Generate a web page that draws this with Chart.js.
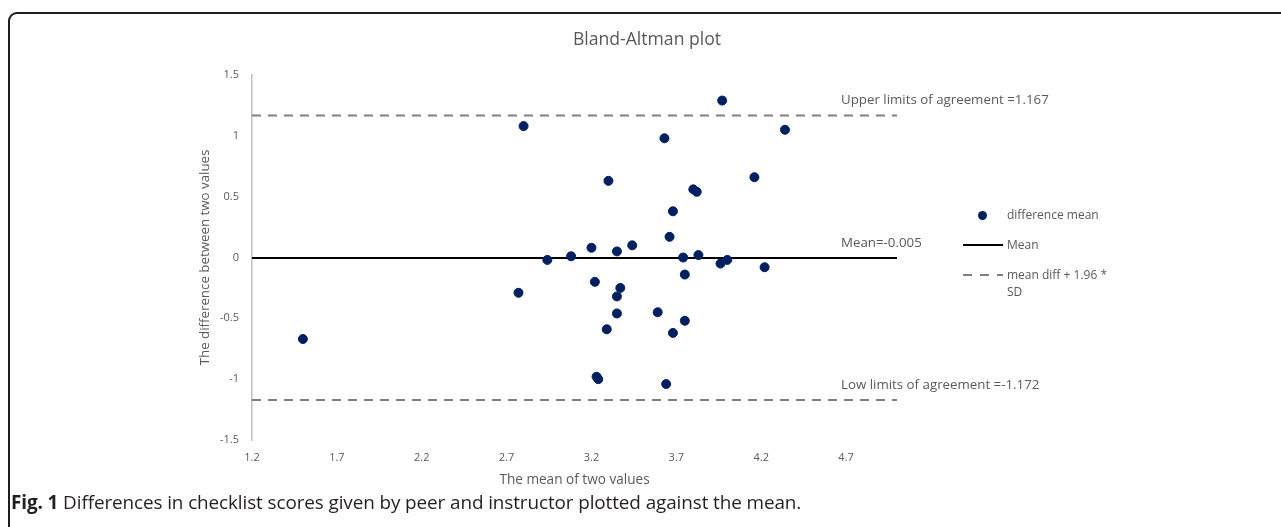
<!DOCTYPE html>
<html>
<head>
<meta charset="utf-8">
<script src="https://cdn.jsdelivr.net/npm/chart.js@4"></script>
<style>
  html, body { margin: 0; padding: 0; background: #fff; overflow: hidden; }
  body { width: 1281px; height: 527px; position: relative; font-family: "Open Sans", sans-serif; }
  #frame { position: absolute; left: 8px; top: 12px; width: 1400px; height: 600px; border: 2px solid #1e1e1e; border-radius: 9px; box-sizing: border-box; }
  #wrap { position: absolute; left: 0; top: 0; width: 1281px; height: 527px; }
  #title { position: absolute; left: 647px; top: 38px; transform: translate(-50%, -50%); font-size: 17.6px; color: #595959; white-space: nowrap; }
  #caption { position: absolute; left: 11px; top: 502px; transform: translateY(-50%); font-size: 18.9px; color: #231f20; white-space: nowrap; letter-spacing: -0.1px; }
  #caption b { font-weight: 700; }
  .leg { position: absolute; font-size: 12px; color: #595959; line-height: 17px; white-space: nowrap; }
  .legdot { position: absolute; width: 9px; height: 9px; border-radius: 50%; background: #002060; }
  .legline { position: absolute; height: 2px; }
</style>
</head>
<body>
<div id="frame"></div>
<div id="wrap"><canvas id="c"></canvas></div>
<div id="title">Bland-Altman plot</div>
<div class="legdot" style="left:978px; top:211px;"></div>
<div class="leg" style="left:1007px; top:206px;">difference mean</div>
<div class="legline" style="left:963px; top:244px; width:40px; background:#000;"></div>
<div class="leg" style="left:1007px; top:236px;">Mean</div>
<div class="legline" style="left:963px; top:274px; width:40px; background:repeating-linear-gradient(to right, #7f7f7f 0 9px, transparent 9px 17px);"></div>
<div class="leg" style="left:1007px; top:266px;">mean diff + 1.96 *<br>SD</div>
<div id="caption"><b>Fig. 1</b> Differences in checklist scores given by peer and instructor plotted against the mean.</div>
<script>
// ---- data ----
const meanOfTwo = [1.50, 2.80, 2.77, 2.94, 3.08, 3.20, 3.30, 3.35, 3.44, 3.22, 3.37, 3.35, 3.35, 3.29, 3.23, 3.24, 3.63, 3.97, 4.34, 4.16, 3.80, 3.82, 3.68, 3.66, 3.74, 3.83, 3.75, 3.96, 4.00, 4.22, 3.59, 3.75, 3.68, 3.64];
const diffOfTwo = [-0.67, 1.08, -0.29, -0.02, 0.01, 0.08, 0.63, 0.05, 0.10, -0.20, -0.25, -0.32, -0.46, -0.59, -0.98, -1.00, 0.98, 1.29, 1.05, 0.66, 0.56, 0.54, 0.38, 0.17, 0.00, 0.02, -0.14, -0.05, -0.02, -0.08, -0.45, -0.52, -0.62, -1.04];
const lineX = [1.2, 5.0];
const meanDiff = -0.005;
const upperLoA = 1.167;
const lowerLoA = -1.172;
const xTicks = [1.2, 1.7, 2.2, 2.7, 3.2, 3.7, 4.2, 4.7];
const yTicks = [-1.5, -1, -0.5, 0, 0.5, 1, 1.5];
const annotX = 4.67;
const annotations = [
  { y: upperLoA, text: 'Upper limits of agreement =1.167' },
  { y: meanDiff, text: 'Mean=-0.005' },
  { y: lowerLoA, text: 'Low limits of agreement =-1.172' }
];

const points = meanOfTwo.map((x, i) => ({ x: x, y: diffOfTwo[i] }));
const lineData = v => lineX.map(x => ({ x: x, y: v }));

const annotPlugin = {
  id: 'annot',
  afterDatasetsDraw(chart) {
    const { ctx, scales: { x, y } } = chart;
    ctx.save();
    ctx.font = '13.3px "Open Sans"';
    ctx.fillStyle = '#595959';
    ctx.textAlign = 'left';
    ctx.textBaseline = 'middle';
    annotations.forEach(a => {
      ctx.fillText(a.text, x.getPixelForValue(annotX), y.getPixelForValue(a.y) - 15);
    });
    ctx.restore();
  }
};

new Chart(document.getElementById('c'), {
  type: 'scatter',
  data: {
    datasets: [
      { label: 'difference mean', data: points, backgroundColor: '#002060', borderColor: '#002060', pointRadius: 4.5, pointHoverRadius: 4.5, showLine: false },
      { label: 'Mean', data: lineData(meanDiff), showLine: true, borderColor: '#000000', borderWidth: 2, pointRadius: 0 },
      { label: 'mean diff + 1.96 * SD', data: lineData(upperLoA), showLine: true, borderColor: '#7f7f7f', borderWidth: 2, borderDash: [9, 7], pointRadius: 0 },
      { label: 'lower', data: lineData(lowerLoA), showLine: true, borderColor: '#7f7f7f', borderWidth: 2, borderDash: [9, 7], pointRadius: 0 }
    ]
  },
  options: {
    responsive: true,
    maintainAspectRatio: false,
    animation: false,
    layout: { padding: { left: 172, right: 384, top: 75, bottom: 27 } },
    plugins: { legend: { display: false }, tooltip: { enabled: false }, title: { display: false } },
    scales: {
      x: {
        type: 'linear', min: 1.2, max: 5.0,
        afterBuildTicks: s => { s.ticks = xTicks.map(v => ({ value: v })); },
        afterFit: s => { s.height = 60; },
        grid: { display: false, drawTicks: false },
        border: { display: false },
        ticks: { color: '#595959', font: { family: 'Open Sans', size: 11 }, padding: 11, maxRotation: 0, autoSkip: false, callback: v => String(v) },
        title: { display: true, text: 'The mean of two values', color: '#595959', font: { family: 'Open Sans', size: 13.6 }, padding: { top: 0, bottom: 12 } }
      },
      y: {
        type: 'linear', min: -1.5, max: 1.5,
        afterBuildTicks: s => { s.ticks = yTicks.map(v => ({ value: v })); },
        afterFit: s => { s.width = 80; },
        grid: { display: false, drawTicks: false },
        border: { display: true, color: '#bfbfbf', width: 1.5 },
        ticks: { color: '#595959', font: { family: 'Open Sans', size: 11 }, padding: 13, autoSkip: false, callback: v => String(v) },
        title: { display: true, text: 'The difference between two values', color: '#595959', font: { family: 'Open Sans', size: 13.3 }, padding: { top: 25, bottom: 0 } }
      }
    }
  },
  plugins: [annotPlugin]
});
</script>
</body>
</html>
